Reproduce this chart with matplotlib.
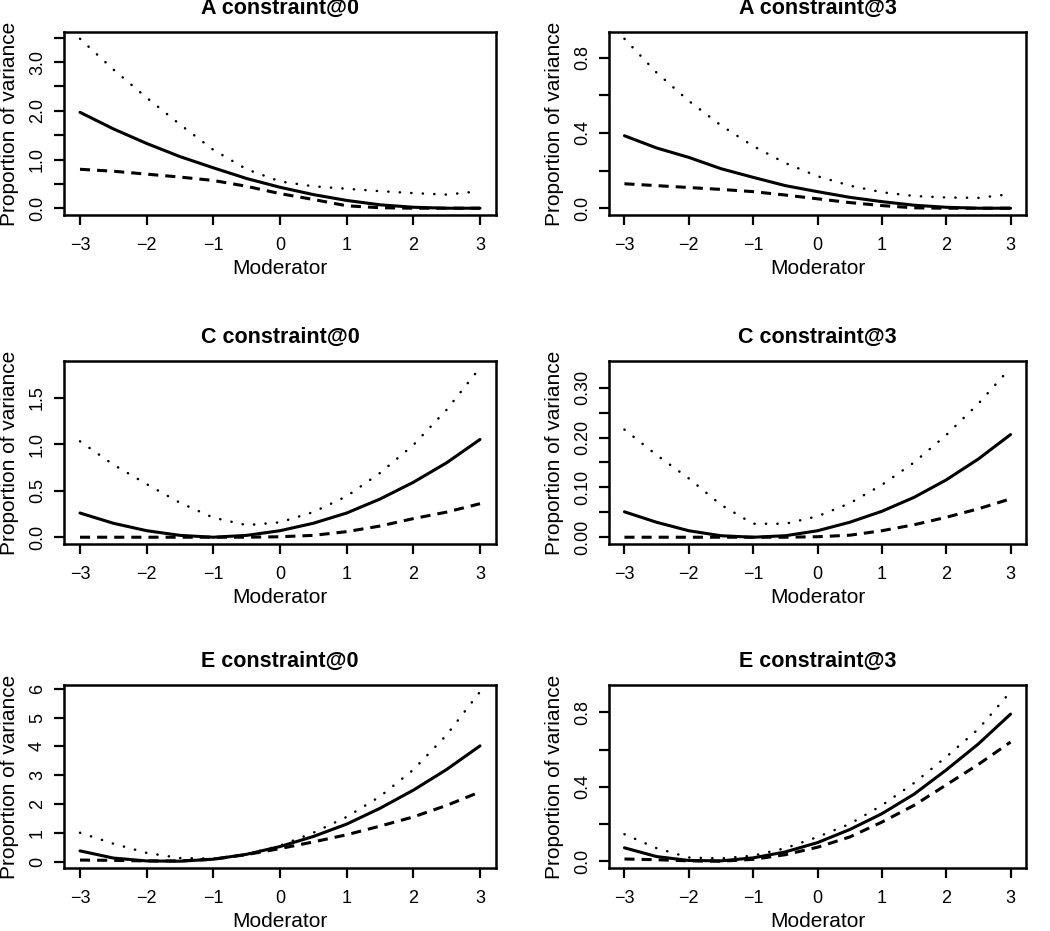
import matplotlib
matplotlib.use("Agg")
import matplotlib.pyplot as plt
import numpy as np

plt.rcParams["font.family"] = ["Liberation Sans", "DejaVu Sans"]

# moderator grid shared by all panels
moderator = [-3, -2.5, -2, -1.5, -1, -0.5, 0, 0.5, 1, 1.5, 2, 2.5, 3]

titles = ["A constraint@0", "A constraint@3",
          "C constraint@0", "C constraint@3",
          "E constraint@0", "E constraint@3"]

# estimate (solid), lower bound (dashed), upper bound (dotted)
a0_est = [1.97, 1.63, 1.33, 1.06, 0.83, 0.61, 0.43, 0.28, 0.16, 0.07, 0.02, 0.0, 0.0]
a0_low = [0.80, 0.76, 0.70, 0.64, 0.57, 0.45, 0.30, 0.18, 0.05, 0.01, 0.0, 0.0, 0.0]
a0_up = [3.48, 2.85, 2.27, 1.72, 1.20, 0.80, 0.55, 0.45, 0.40, 0.35, 0.31, 0.28, 0.35]

a3_est = [0.385, 0.32, 0.27, 0.21, 0.164, 0.12, 0.088, 0.058, 0.035, 0.016, 0.005, 0.0, 0.0]
a3_low = [0.13, 0.12, 0.11, 0.10, 0.088, 0.07, 0.05, 0.03, 0.014, 0.002, 0.0, 0.0, 0.0]
a3_up = [0.90, 0.72, 0.57, 0.44, 0.33, 0.24, 0.17, 0.12, 0.085, 0.065, 0.057, 0.055, 0.075]

c0_est = [0.26, 0.15, 0.07, 0.02, 0.0, 0.02, 0.07, 0.15, 0.26, 0.41, 0.59, 0.80, 1.05]
c0_low = [0.0, 0.0, 0.0, 0.0, 0.0, 0.0, 0.005, 0.02, 0.06, 0.12, 0.20, 0.27, 0.36]
c0_up = [1.03, 0.78, 0.57, 0.37, 0.21, 0.13, 0.16, 0.27, 0.44, 0.69, 0.99, 1.37, 1.82]

c3_est = [0.051, 0.03, 0.013, 0.003, 0.0, 0.003, 0.013, 0.03, 0.052, 0.08, 0.115, 0.157, 0.206]
c3_low = [0.0, 0.0, 0.0, 0.0, 0.0, 0.0, 0.001, 0.004, 0.013, 0.025, 0.04, 0.057, 0.077]
c3_up = [0.216, 0.165, 0.118, 0.065, 0.027, 0.027, 0.042, 0.068, 0.105, 0.15, 0.205, 0.268, 0.34]

e0_est = [0.37, 0.12, 0.02, 0.01, 0.08, 0.25, 0.52, 0.87, 1.30, 1.85, 2.48, 3.20, 4.02]
e0_low = [0.05, 0.04, 0.02, 0.02, 0.08, 0.24, 0.45, 0.68, 0.93, 1.23, 1.55, 1.95, 2.42]
e0_up = [1.0, 0.62, 0.30, 0.12, 0.10, 0.25, 0.55, 1.0, 1.55, 2.26, 3.19, 4.40, 5.90]

e3_est = [0.072, 0.025, 0.004, 0.002, 0.018, 0.05, 0.10, 0.17, 0.255, 0.36, 0.49, 0.63, 0.79]
e3_low = [0.012, 0.008, 0.002, 0.0, 0.01, 0.035, 0.075, 0.13, 0.21, 0.30, 0.41, 0.52, 0.64]
e3_up = [0.145, 0.07, 0.02, 0.015, 0.03, 0.07, 0.13, 0.20, 0.30, 0.42, 0.56, 0.71, 0.91]

series = [(a0_est, a0_low, a0_up), (a3_est, a3_low, a3_up),
          (c0_est, c0_low, c0_up), (c3_est, c3_low, c3_up),
          (e0_est, e0_low, e0_up), (e3_est, e3_low, e3_up)]

x_ticks = [-3, -2, -1, 0, 1, 2, 3]
x_tick_labels = ["\u22123", "\u22122", "\u22121", "0", "1", "2", "3"]

y_ticks = [
    [0.0, 0.5, 1.0, 1.5, 2.0, 2.5, 3.0, 3.5],
    [0.0, 0.2, 0.4, 0.6, 0.8],
    [0.0, 0.5, 1.0, 1.5],
    [0.0, 0.05, 0.10, 0.15, 0.20, 0.25, 0.30],
    [0, 1, 2, 3, 4, 5, 6],
    [0.0, 0.2, 0.4, 0.6, 0.8],
]
# R drops labels that would overlap
y_tick_labels = [
    ["0.0", "", "1.0", "", "2.0", "", "3.0", ""],
    ["0.0", "", "0.4", "", "0.8"],
    ["0.0", "0.5", "1.0", "1.5"],
    ["0.00", "", "0.10", "", "0.20", "", "0.30"],
    ["0", "1", "2", "3", "4", "5", "6"],
    ["0.0", "", "0.4", "", "0.8"],
]

W, H = 1050, 931
# axes boxes in pixels: (left, right) and (top, bottom)
col_x = [(64, 496), (609, 1026)]
row_y = [(32, 215), (361, 544), (685, 868)]

fig = plt.figure(figsize=(W / 100, H / 100), dpi=100)

for i, (title, (est, low, up)) in enumerate(zip(titles, series)):
    r, c = divmod(i, 2)
    x0, x1 = col_x[c]
    y0, y1 = row_y[r]
    ax = fig.add_axes([x0 / W, 1 - y1 / H, (x1 - x0) / W, (y1 - y0) / H])

    ax.plot(moderator, est, color="black", lw=2.2, ls="-", solid_capstyle="round")
    ax.plot(moderator, low, color="black", lw=2.2, ls=(0, (3.3, 2.3)))
    ax.plot(moderator, up, color="black", lw=1.8, ls=(0, (0.1, 4.5)),
            dash_capstyle="round")

    # R style 4% padding
    lo = min(min(est), min(low), min(up))
    hi = max(max(est), max(low), max(up))
    pad = 0.04 * (hi - lo)
    ax.set_ylim(lo - pad, hi + pad)
    ax.set_xlim(-3.24, 3.24)

    ax.set_xticks(x_ticks)
    ax.set_xticklabels(x_tick_labels)
    ax.set_yticks(y_ticks[i])
    ax.set_yticklabels(y_tick_labels[i], rotation=90, va="center")

    ax.tick_params(direction="out", length=7.5, width=1.6, labelsize=13,
                   color="black", pad=5.5)
    ax.tick_params(axis="x", pad=8)
    for sp in ax.spines.values():
        sp.set_linewidth(1.8)

    ax.set_title(title, fontsize=15.5, fontweight="bold", pad=13)
    ax.set_xlabel("Moderator", fontsize=15, labelpad=4)
    ax.set_ylabel("Proportion of variance", fontsize=15, labelpad=7)

fig.savefig("out.png", dpi=100)
